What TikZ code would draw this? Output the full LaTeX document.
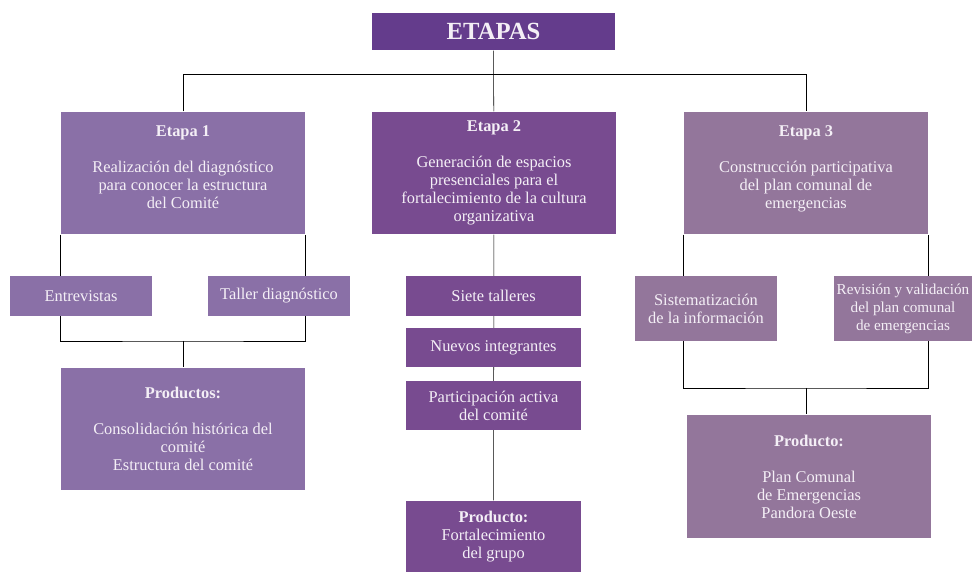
\documentclass[tikz,border=0pt]{standalone}
\usepackage{fontspec}
\setmainfont{Liberation Serif}
\usetikzlibrary{backgrounds}

\definecolor{topviolet}{HTML}{643C8C}
\definecolor{violetone}{HTML}{8A70A7}
\definecolor{violettwo}{HTML}{784B90}
\definecolor{violetthree}{HTML}{93769B}
\definecolor{boxtext}{HTML}{F4EFF6}

\begin{document}
\begin{tikzpicture}[x=0.75pt,y=-0.75pt,line width=1pt,
    base node/.style={rectangle,inner sep=0pt,align=center,text=boxtext,font=\fontsize{12.3}{13.5}\selectfont},
    box size/.style 2 args={minimum width=#1*0.75pt,minimum height=#2*0.75pt},
    one node/.style={base node,fill=violetone},
    two node/.style={base node,fill=violettwo},
    three node/.style={base node,fill=violetthree}]

  \useasboundingbox (0,0) rectangle (972,573);

  \node[base node,fill=topviolet,box size={243}{37},font=\fontsize{18.5}{20}\selectfont\bfseries] (top) at (493.5,31.5) {ETAPAS};

  \node[one node,box size={244}{122}]   (etapa1) at (183,173) {\textbf{Etapa 1}\\[13.5pt]Realización del diagnóstico\\para conocer la estructura\\del Comité\\[-4pt]};
  \node[two node,box size={244}{122}]   (etapa2) at (494,173) {\textbf{Etapa 2}\\[13.5pt]Generación de espacios\\presenciales para el\\fortalecimiento de la cultura\\organizativa};
  \node[three node,box size={244}{122}] (etapa3) at (806,173) {\textbf{Etapa 3}\\[13.5pt]Construcción participativa\\del plan comunal de\\emergencias\\[-4pt]};

  \node[one node,box size={142}{40}]  (entrev) at (81,296) {Entrevistas};
  \node[one node,box size={142}{40}]  (taller) at (279,296) {Taller diagnóstico};
  \node[one node,box size={244}{122}] (prod1) at (183,429) {\textbf{Productos:}\\[13.5pt]Consolidación histórica del\\comité\\Estructura del comité};

  \node[two node,box size={175}{40}] (siete)  at (493.5,296) {Siete talleres};
  \node[two node,box size={175}{39}] (nuevos) at (493.5,347.5) {Nuevos integrantes};
  \node[two node,box size={175}{49}] (partic) at (493.5,405.5) {Participación activa\\del comité};
  \node[two node,box size={175}{71}] (prod2)  at (493.5,536.5) {\textbf{Producto:}\\Fortalecimiento\\del grupo};

  \node[three node,box size={142}{65}] (sistem) at (706,308.5) {Sistematización\\de la información};
  \node[three node,box size={138}{65},font=\fontsize{11.4}{13.5}\selectfont] (revis) at (903,308.5) {Revisión y validación\\del plan comunal\\de emergencias};
  \node[three node,box size={244}{123}] (prod3) at (809,476.5) {\textbf{Producto:}\\[13.5pt]Plan Comunal\\de Emergencias\\Pandora Oeste};

  \coordinate (bar) at (494,74);
  \coordinate (join1) at (183,341);
  \coordinate (join3) at (806,388);

  \begin{scope}[on background layer]
    \draw (top) -- (etapa2);
    \draw (etapa1.north) -- (etapa1.north |- bar) -- (etapa3.north |- bar) -- (etapa3.north);
    \draw (etapa1.south west) |- (join1) -| (etapa1.south east);
    \draw (join1) -- (join1 |- prod1.north);
    \draw (etapa2) -- (prod2);
    \draw (etapa3.south west) |- (join3) -| (etapa3.south east);
    \draw (join3) -- (join3 |- prod3.north);
  \end{scope}
\end{tikzpicture}
\end{document}
